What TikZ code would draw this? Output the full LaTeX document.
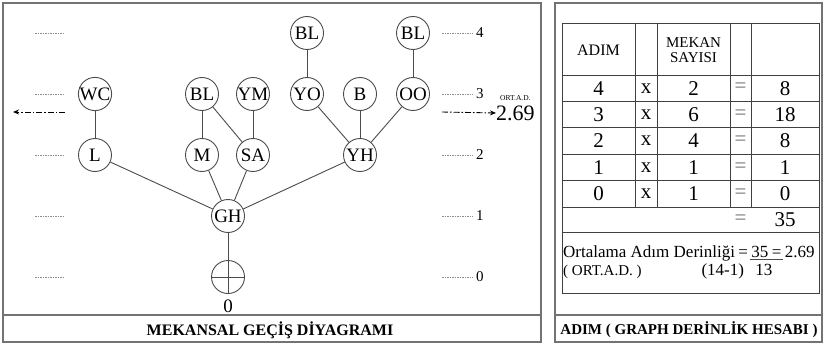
\documentclass[tikz,border=0pt]{standalone}
\usepackage{fontspec}
\setmainfont{Liberation Serif}
\usetikzlibrary{arrows.meta}
\newcommand\fsz[1]{\fontsize{#1}{#1}\selectfont}
\begin{document}
\begin{tikzpicture}[x=1pt,y=-1pt,
 room/.style={circle, draw=black!70, line width=0.9pt, minimum size=33pt, inner sep=0pt, font=\fsz{19}},
 link/.style={draw=black!70, line width=0.9pt},
 frame/.style={draw=black!55, line width=1.4pt},
 grid/.style={draw=black!75, line width=0.8pt},
 lvl/.style={draw=black!45, line width=0.6pt, dash pattern=on 1.5pt off 1pt},
 lvlnum/.style={font=\fsz{15}, anchor=west, inner sep=0pt},
 cell/.style={font=\fsz{21}, inner sep=0pt},
 hdr/.style={font=\fsz{16}, inner sep=0pt, align=center},
 ttl/.style={font=\bfseries\fsz{16}, inner sep=0pt},
 txt/.style={font=\fsz{17}, inner sep=1.5pt},
 avg/.style={line width=0.9pt, dash pattern=on 6pt off 2pt on 1.5pt off 2pt, -{Stealth[length=6pt,width=5pt]}}
]
\path[use as bounding box, fill=white] (0,0) rectangle (824,345);

% frames
\draw[frame] (3,3) rectangle (541,342);
\draw[frame] (3,315) -- (541,315);
\draw[frame] (555,3) rectangle (822,342);
\draw[frame] (555,315) -- (822,315);
\node[ttl] (t1) at (270,330) {MEKANSAL GEÇİŞ DİYAGRAMI};
\node[ttl, font=\bfseries\fsz{15}] (t2) at (689,330) {ADIM ( GRAPH DERİNLİK HESABI )};

% levels
\foreach \lv/\yy in {4/33,3/94,2/155,1/216,0/277} {
  \draw[lvl] (35,\yy) -- (65,\yy);
  \draw[lvl] (442,\yy) -- (473,\yy);
  \node[lvlnum] (lv\lv) at (476,\yy) {\lv};
}

% average depth arrows
\coordinate (la) at (65,112);
\coordinate (lb) at (13,112);
\draw[avg] (la) -- (lb);
\node[font=\fsz{22}, anchor=west, inner sep=0pt] (avgval) at (496,113) {2.69};
\coordinate (ra) at (442,112);
\draw[avg] (ra) -- (avgval.west);
\node[font=\fsz{7.5}, anchor=south west, inner sep=0pt] (avglbl) at (500,101) {ORT.A.D.};

% rooms
\node[room] (WC) at (95,94) {WC};
\node[room] (L) at (95,155) {L};
\node[room] (BLa) at (202,94) {BL};
\node[room] (M) at (202,155) {M};
\node[room] (YM) at (253,94) {YM};
\node[room] (SA) at (253,155) {SA};
\node[room] (BLb) at (307,33) {BL};
\node[room] (YO) at (307,94) {YO};
\node[room] (B) at (360,94) {B};
\node[room] (YH) at (360,155) {YH};
\node[room] (BLc) at (413,33) {BL};
\node[room] (OO) at (413,94) {OO};
\node[room] (GH) at (228,216) {GH};
\node[room] (root) at (228,277) {};
\draw[link] (root.north) -- (root.south) (root.west) -- (root.east);
\node[font=\fsz{19}, inner sep=0pt] (zero) at (228,306) {0};

\draw[link] (WC) -- (L);
\draw[link] (L) -- (GH);
\draw[link] (BLa) -- (M);
\draw[link] (BLa) -- (SA);
\draw[link] (YM) -- (SA);
\draw[link] (M) -- (GH);
\draw[link] (SA) -- (GH);
\draw[link] (BLb) -- (YO);
\draw[link] (BLc) -- (OO);
\draw[link] (YO) -- (YH);
\draw[link] (B) -- (YH);
\draw[link] (OO) -- (YH);
\draw[link] (YH) -- (GH);
\draw[link] (GH) -- (root);

% table
\draw[grid] (562,23) rectangle (819,293);
\foreach \yy in {75,101.4,127.8,154.2,180.6,207,232} \draw[grid] (562,\yy) -- (819,\yy);
\foreach \xx in {635,657,730,751} \draw[grid] (\xx,23) -- (\xx,207);
\node[hdr] (hA) at (598.5,50) {ADIM};
\node[hdr, font=\fsz{15}] (hM) at (693.5,50) {MEKAN\\SAYISI};
\foreach \a/\m/\r [count=\i] in {4/2/8,3/6/18,2/4/8,1/1/1,0/1/0} {
  \pgfmathsetmacro\yc{75+26.4*(\i-0.5)}
  \node[cell] (a\i) at (598.5,\yc) {\a};
  \node[cell] (x\i) at (646,\yc) {x};
  \node[cell] (m\i) at (693.5,\yc) {\m};
  \node[cell, text=black!55] (e\i) at (740.5,\yc) {=};
  \node[cell] (r\i) at (785,\yc) {\r};
}
\node[cell, text=black!55] (eT) at (740.5,220) {=};
\node[cell] (rT) at (785,220) {35};

% average text
\node[txt, anchor=base west] (o1) at (561.5,257) {Ortalama Adım Derinliği};
\node[txt, anchor=base west] (o2) at (o1.base east) {=};
\node[txt, anchor=base west] (o3) at (o2.base east) {35};
\node[txt, anchor=base west] (o4) at (o3.base east) {=};
\node[txt, anchor=base west] (o5) at (o4.base east) {2.69};
\draw[link] ([yshift=-2pt]o3.base west) -- ([yshift=-2pt]o4.base east);
\node[txt, anchor=base] (o6) at ([yshift=-18pt, xshift=4pt]o3.base) {13};
\node[txt, anchor=base east] (o7) at ([yshift=-18pt, xshift=-4pt]o3.base west) {(14-1)};
\node[txt, font=\fsz{15}, anchor=base west] (o8) at (561.5,275) {( ORT.A.D. )};
\end{tikzpicture}
\end{document}
